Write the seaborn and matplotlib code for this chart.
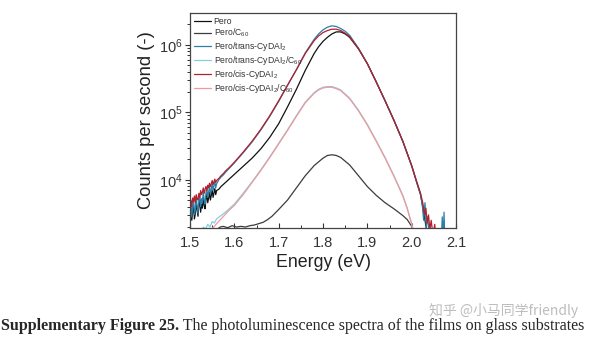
import numpy as np
import pandas as pd
import matplotlib
matplotlib.use("Agg")
import matplotlib.pyplot as plt
from matplotlib.ticker import LogLocator, MultipleLocator, NullFormatter
import seaborn as sns

# ---- PL spectra (energy in eV, log10 of counts per second) ----
energy_hi = [1.500, 1.502, 1.504, 1.506, 1.508, 1.510, 1.512, 1.514, 1.516, 1.518,
             1.520, 1.522, 1.524, 1.526, 1.528, 1.530, 1.532, 1.534, 1.536, 1.538,
             1.540, 1.542, 1.544, 1.546, 1.548, 1.550, 1.552, 1.554, 1.556, 1.558, 1.560,
             1.565, 1.570, 1.575, 1.580, 1.590,
             1.60, 1.62, 1.64, 1.66, 1.68, 1.70, 1.72, 1.74, 1.76, 1.78,
             1.79, 1.80, 1.81, 1.82, 1.83, 1.84, 1.85, 1.86,
             1.88, 1.90, 1.92, 1.94, 1.96, 1.98, 2.00, 2.01, 2.02]

pero_log = [3.45, 3.58, 3.40, 3.52, 3.63, 3.42, 3.50, 3.66, 3.55, 3.46,
            3.62, 3.70, 3.52, 3.64, 3.58, 3.74, 3.62, 3.57, 3.71, 3.79,
            3.66, 3.73, 3.81, 3.70, 3.77, 3.85, 3.74, 3.80, 3.87, 3.78, 3.84,
            3.86, 3.90, 3.93, 3.96, 4.02,
            4.08, 4.20, 4.32, 4.46, 4.63, 4.83, 5.08, 5.34, 5.62, 5.87,
            5.97, 6.05, 6.11, 6.16, 6.19, 6.19, 6.16, 6.11,
            5.94, 5.72, 5.45, 5.17, 4.88, 4.57, 4.21, 3.99, 3.78]
pero_tail_e = [2.025, 2.030, 2.035]
pero_tail_log = [3.60, 3.40, 3.20]

trans_log = [3.52, 3.66, 3.45, 3.60, 3.71, 3.49, 3.55, 3.74, 3.62, 3.50,
             3.69, 3.78, 3.60, 3.72, 3.66, 3.83, 3.70, 3.64, 3.80, 3.88,
             3.74, 3.82, 3.90, 3.79, 3.86, 3.95, 3.84, 3.91, 3.98, 3.88, 3.94,
             4.00, 4.04, 4.07, 4.11, 4.18,
             4.25, 4.40, 4.56, 4.74, 4.94, 5.16, 5.40, 5.63, 5.88, 6.08,
             6.16, 6.22, 6.26, 6.28, 6.27, 6.24, 6.20, 6.14,
             5.95, 5.72, 5.45, 5.17, 4.88, 4.57, 4.20, 3.99, 3.78]
trans_tail_e = [2.024, 2.027, 2.030, 2.033, 2.036, 2.040, 2.045,
                2.066, 2.069, 2.071, 2.073, 2.075, 2.080]
trans_tail_log = [3.62, 3.40, 3.66, 3.30, 3.45, 3.15, 3.00,
                  3.00, 3.45, 3.10, 3.52, 3.05, 2.90]

cis_log = [3.62, 3.70, 3.60, 3.73, 3.68, 3.76, 3.66, 3.78, 3.72, 3.70,
           3.80, 3.74, 3.84, 3.78, 3.82, 3.88, 3.80, 3.86, 3.90, 3.84,
           3.92, 3.88, 3.95, 3.90, 3.94, 3.99, 3.93, 3.97, 4.01, 3.96, 3.99,
           4.02, 4.06, 4.09, 4.13, 4.19,
           4.26, 4.41, 4.57, 4.75, 4.95, 5.17, 5.40, 5.63, 5.87, 6.06,
           6.13, 6.18, 6.21, 6.23, 6.23, 6.21, 6.17, 6.12,
           5.94, 5.72, 5.45, 5.17, 4.88, 4.57, 4.21, 4.00, 3.80]
cis_tail_e = [2.025, 2.029, 2.032, 2.035, 2.038, 2.041, 2.044, 2.048, 2.052, 2.056, 2.060]
cis_tail_log = [3.66, 3.48, 3.58, 3.36, 3.48, 3.26, 3.40, 3.18, 3.34, 3.05, 2.90]

energy_mid = [1.525, 1.530, 1.535, 1.540, 1.545, 1.550, 1.555, 1.560, 1.57, 1.58, 1.59,
              1.60, 1.62, 1.64, 1.66, 1.68, 1.70, 1.72, 1.74, 1.76, 1.78,
              1.79, 1.80, 1.81, 1.82, 1.83, 1.84, 1.86, 1.88, 1.90, 1.92,
              1.94, 1.96, 1.98, 1.99, 2.00, 2.005]
trans_c60_log = [3.20, 3.30, 3.27, 3.34, 3.30, 3.38, 3.36, 3.42, 3.47, 3.52, 3.58,
                 3.64, 3.80, 3.97, 4.15, 4.34, 4.54, 4.74, 4.95, 5.15, 5.29,
                 5.34, 5.37, 5.38, 5.38, 5.36, 5.33, 5.21, 5.03, 4.82, 4.58,
                 4.33, 4.06, 3.77, 3.58, 3.35, 3.20]

energy_cis_c60 = [1.545, 1.550, 1.555, 1.560, 1.57, 1.58, 1.59,
                  1.60, 1.62, 1.64, 1.66, 1.68, 1.70, 1.72, 1.74, 1.76, 1.78,
                  1.79, 1.80, 1.81, 1.82, 1.83, 1.84, 1.86, 1.88, 1.90, 1.92,
                  1.94, 1.96, 1.98, 1.99, 2.00, 2.005]
cis_c60_log = [3.20, 3.28, 3.31, 3.35, 3.42, 3.49, 3.56,
               3.62, 3.78, 3.96, 4.14, 4.33, 4.53, 4.73, 4.94, 5.14, 5.28,
               5.33, 5.36, 5.37, 5.37, 5.35, 5.32, 5.20, 5.02, 4.81, 4.57,
               4.32, 4.05, 3.76, 3.57, 3.34, 3.20]

energy_lo = [1.560, 1.568, 1.575, 1.585, 1.595, 1.605, 1.615, 1.625, 1.635, 1.645, 1.655,
             1.665, 1.675, 1.685, 1.70, 1.72, 1.74, 1.76, 1.78, 1.80, 1.81,
             1.82, 1.83, 1.84, 1.86, 1.88, 1.90, 1.92, 1.94, 1.96, 1.98,
             1.99, 2.00, 2.005]
pero_c60_log = [3.26, 3.30, 3.31, 3.29, 3.32, 3.30, 3.31, 3.30, 3.32, 3.33, 3.35,
                3.37, 3.41, 3.46, 3.56, 3.70, 3.88, 4.06, 4.21, 4.32, 4.36,
                4.37, 4.36, 4.33, 4.22, 4.06, 3.90, 3.77, 3.66, 3.57, 3.47,
                3.41, 3.31, 3.22]

labels = ["Pero", "Pero/C$_{60}$", "Pero/trans-CyDAI$_2$",
          "Pero/trans-CyDAI$_2$/C$_{60}$", "Pero/cis-CyDAI$_2$",
          "Pero/cis-CyDAI$_2$/C$_{60}$"]
colors = ["#111111", "#3c3c3c", "#2b7fa8", "#86cde3", "#b3202c", "#f19a9a"]

series = [
    (energy_hi + pero_tail_e, pero_log + pero_tail_log),
    (energy_lo, pero_c60_log),
    (energy_hi + trans_tail_e, trans_log + trans_tail_log),
    (energy_mid, trans_c60_log),
    (energy_hi + cis_tail_e, cis_log + cis_tail_log),
    (energy_cis_c60, cis_c60_log),
]

sns.set_style("ticks")
plt.rcParams["font.family"] = ["Liberation Sans", "DejaVu Sans"]
plt.rcParams["mathtext.fontset"] = "custom"
plt.rcParams["mathtext.rm"] = "Liberation Sans"
plt.rcParams["mathtext.it"] = "Liberation Sans:italic"

fig = plt.figure(figsize=(5.93, 3.37), dpi=100)
ax = fig.add_axes([0.3204, 0.3234, 0.769 - 0.3204, 0.9614 - 0.3234])

for (e, lg), lab, col in zip(series, labels, colors):
    df = pd.DataFrame({"Energy": e, "Counts": 10.0 ** np.asarray(lg)})
    sns.lineplot(data=df, x="Energy", y="Counts", ax=ax, color=col, label=lab,
                 linewidth=0.9, estimator=None, sort=False)

ax.set_yscale("log")
ax.set_xlim(1.5, 2.1)
ax.set_ylim(1930, 2.95e6)
ax.xaxis.set_major_locator(MultipleLocator(0.1))
ax.xaxis.set_minor_locator(MultipleLocator(0.05))
ax.yaxis.set_major_locator(LogLocator(base=10, numticks=10))
ax.yaxis.set_minor_locator(LogLocator(base=10, subs=np.arange(2, 10), numticks=20))
ax.yaxis.set_minor_formatter(NullFormatter())

ax.tick_params(axis="x", which="major", direction="in", length=3.5, width=0.8,
               labelsize=10.5, colors="#333333", pad=6)
ax.tick_params(axis="x", which="minor", direction="in", length=2, width=0.7, colors="#333333")
ax.tick_params(axis="y", which="major", direction="out", length=3.5, width=0.8,
               labelsize=10.5, colors="#333333", pad=1.5)
ax.tick_params(axis="y", which="minor", direction="out", length=2, width=0.7, colors="#333333")
for sp in ax.spines.values():
    sp.set_color("#444444")
    sp.set_linewidth(0.9)

ax.set_xlabel("Energy (eV)", fontsize=12.8, color="#222222", labelpad=2.5)
ax.set_ylabel("Counts per second (-)", fontsize=13.2, color="#222222", labelpad=3)

leg = ax.legend(loc="upper left", bbox_to_anchor=(0.0, 1.0), frameon=False,
                fontsize=6.2, labelspacing=0.1, handlelength=2.0,
                handletextpad=0.3, borderaxespad=0.2, borderpad=0.25)
for t in leg.get_texts():
    t.set_color("#333333")

# caption and site mark
cap = fig.text(0.002, 0.008, "Supplementary Figure 25.", fontsize=11.5,
               fontweight="bold", family="Liberation Serif", va="bottom", ha="left")
fig.canvas.draw()
ax.annotate(" The photoluminescence spectra of the films on glass substrates",
            xy=(1, 0), xycoords=cap, va="bottom", ha="left", fontsize=11.5,
            family="Liberation Serif", annotation_clip=False)
fig.text(0.975, 0.078, "知乎 @小马同学friendly", fontsize=10, color="#bdbdbd",
         family=["Noto Sans CJK SC", "DejaVu Sans"], ha="right", va="center",
         fontweight="light")

fig.savefig("out.png", dpi=100, facecolor="white")
